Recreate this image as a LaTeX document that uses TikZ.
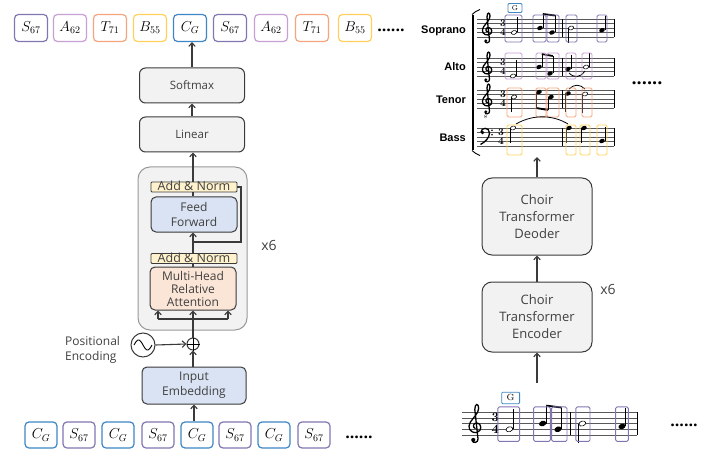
\documentclass[tikz,border=0pt]{standalone}
\usepackage{fontspec}
\newfontfamily\labelfont{Open Sans}
\newfontfamily\voicefont{Liberation Sans}
\usetikzlibrary{arrows, arrows.meta, positioning, calc}

\definecolor{sopc}{HTML}{8275B0}
\definecolor{altc}{HTML}{C6A0D4}
\definecolor{tenc}{HTML}{F4A57E}
\definecolor{basc}{HTML}{FFD15C}
\definecolor{chdc}{HTML}{3D87C5}
\definecolor{boxgray}{HTML}{F2F2F2}
\definecolor{normc}{HTML}{FFF2CC}
\definecolor{ffc}{HTML}{DAE3F3}
\definecolor{attc}{HTML}{FBE5D6}
\definecolor{txtc}{HTML}{404040}
\definecolor{edgec}{HTML}{3A3A3A}

\tikzset{
  >={Straight Barb[length=3.5pt, width=6.5pt]},
  wire/.style={line width=1.1pt, edgec},
  tok/.style={draw, fill=white, rounded corners=4pt, line width=1.2pt, minimum width=33pt, minimum height=27pt, inner sep=0pt, font=\fontsize{14}{14}\selectfont},
  layerbox/.style={draw=edgec, fill=boxgray, rounded corners=6pt, line width=1pt, text=txtc, align=center, inner sep=0pt, minimum width=105pt, minimum height=35pt, font=\labelfont\fontsize{11.5}{14}\selectfont},
  stackbox/.style={draw=gray!80, fill=boxgray, rounded corners=12pt, line width=1pt},
  subbox/.style={draw=edgec, rounded corners=5pt, line width=1pt, text=txtc, align=center, inner sep=0pt, minimum width=86pt, font=\labelfont\fontsize{12}{14}\selectfont},
  normbox/.style={draw=edgec, fill=normc, line width=0.9pt, rounded corners=1pt, minimum width=86pt, minimum height=10pt, text height=8pt, text depth=1pt, inner sep=0pt, text=txtc, font=\labelfont\fontsize{12.5}{12.5}\selectfont},
  choirbox/.style={draw=edgec, fill=boxgray, rounded corners=10pt, line width=1pt, minimum width=110pt, text=txtc, align=center, inner sep=0pt, font=\labelfont\fontsize{13}{17}\selectfont},
  plain/.style={text=txtc, font=\labelfont\fontsize{12}{15}\selectfont, align=left, inner sep=0pt},
  rep/.style={text=txtc, font=\labelfont\fontsize{14}{14}\selectfont, inner sep=0pt},
  ellip/.style={font=\labelfont\bfseries\fontsize{16}{16}\selectfont, inner sep=0pt},
  voice/.style={font=\voicefont\bfseries\fontsize{11}{11}\selectfont, anchor=east, inner sep=0pt},
  staffline/.style={line width=0.5pt, black!65},
  barline/.style={line width=0.7pt},
  stemline/.style={line width=0.6pt},
  beamline/.style={line width=1.8pt},
  clefline/.style={line width=1.3pt},
  vbox/.style={rounded corners=1.5pt, line width=0.9pt},
  meter/.style={font=\fontsize{10}{10}\selectfont\bfseries, inner sep=0pt, transform shape},
  gmark/.style={draw=chdc, line width=0.8pt, rounded corners=1pt, font=\fontsize{7}{7}\selectfont, inner sep=0pt, minimum width=14pt, minimum height=9pt, transform shape}
}

% music glyphs, y points down, staff spacing 4.5
\newcommand{\gclef}[2]{%
  \begin{scope}[shift={(#1,#2)}]
    \draw[clefline] (6.5,13) .. controls (4,12) and (4.5,8.5) .. (7.5,8.5)
      .. controls (11.5,8.5) and (12,15) .. (7.5,16)
      .. controls (2,16.5) and (0,12) .. (2.5,8)
      .. controls (5,4) and (9,1) .. (9,-3)
      .. controls (9,-7) and (6,-7) .. (6,-2)
      -- (8.5,21)
      .. controls (9,24) and (4,25) .. (4,22);
    \fill (4.8,21.8) circle (1.6);
  \end{scope}}
\newcommand{\fclef}[2]{%
  \begin{scope}[shift={(#1,#2)}]
    \fill (2.5,4.5) circle (1.8);
    \draw[clefline] (1,4) .. controls (1,-0.8) and (9.5,-1.2) .. (9.5,5)
      .. controls (9.5,10) and (5,14) .. (0.5,16.5);
    \fill (12,2.3) circle (0.9) (12,6.8) circle (0.9);
  \end{scope}}
\newcommand{\meter}[2]{%
  \node[meter] (mtop) at (#1,{#2+4.5}) {3};
  \node[meter] (mbot) at (#1,{#2+13.5}) {4};}
\newcommand{\staff}[2]{%
  \foreach \li in {0,...,4} \draw[staffline] (#1,{#2+4.5*\li}) -- ++(137,0);}
\newcommand{\fnote}[4]{%
  \fill[rotate around={20:(#1,#2)}] (#1,#2) ellipse (2.9 and 2.1);
  \draw[stemline] ({#1+#3},#2) -- ({#1+#3},#4);}
\newcommand{\hnote}[4]{%
  \draw[stemline, fill=white, rotate around={20:(#1,#2)}] (#1,#2) ellipse (2.7 and 1.9);
  \draw[stemline] ({#1+#3},#2) -- ({#1+#3},#4);}
% soprano line, also used for the melody below
\newcommand{\sopranovoice}{%
  \staff{0}{0}
  \gclef{4}{0}
  \meter{26}{0}
  \draw[barline] (85,0) -- (85,18) (137,0) -- (137,18);
  \hnote{37}{13.5}{2.8}{-2}
  \fnote{63}{9}{2.8}{-5}
  \fnote{75}{13.5}{2.8}{-3.5}
  \draw[beamline] (65.8,-5) -- (77.8,-3.5);
  \hnote{94}{9}{-2.8}{24}
  \fnote{125}{11.25}{2.8}{-3}
  \foreach \a/\b in {28/45, 56/69, 70/82, 89/100, 120/130}
    \draw[vbox, sopc] (\a,-4) rectangle (\b,23);
  \node[gmark] (gbox) at (38,-11) {G};}

\begin{document}
\begin{tikzpicture}[x=1pt, y=-1pt]
\useasboundingbox (0,0) rectangle (719,454);

% output tokens
\foreach \x/\lab/\col [count=\i] in {31/S_{67}/sopc, 70/A_{62}/altc, 110/T_{71}/tenc, 150/B_{55}/basc, 190/C_G/chdc, 230/S_{67}/sopc, 271/A_{62}/altc, 312/T_{71}/tenc, 355/B_{55}/basc}
  \node[tok, draw=\col] (ttok\i) at (\x,28) {$\lab$};
\node[ellip] (tdots) at (391,30) {......};

% transformer
\node[layerbox] (softmax) at (192,85.5) {Softmax};
\node[layerbox] (linear) at (192,134.5) {Linear};
\node[stackbox, minimum width=109pt, minimum height=163pt] (stack) at (192.5,248.5) {};
\node[normbox] (norm1) at (194,187) {Add \& Norm};
\node[subbox, fill=ffc, minimum height=35pt, font=\labelfont\fontsize{12}{15}\selectfont] (ff) at (194,214.5) {Feed\\Forward};
\node[normbox] (norm2) at (194,258.5) {Add \& Norm};
\node[subbox, fill=attc, minimum height=43pt, font=\labelfont\fontsize{12}{13}\selectfont] (mha) at (193,288.5) {Multi-Head\\Relative\\Attention};
\node[rep] (rep1) at (269,245) {x6};

\coordinate (split) at (193,319);
\coordinate (splitl) at (158,319);
\coordinate (splitr) at (228,319);
\coordinate (res) at (193,242);
\coordinate (resr) at (241,242);
\draw[wire] (splitl) -- (splitr);
\foreach \c in {splitl, split, splitr}
  \draw[wire, ->] (\c) -- (\c |- mha.south);
\draw[wire] (mha.north) -- (mha.north |- norm2.south);
\draw[wire] (mha.north |- norm2.north) -- (res);
\draw[wire, ->] (res) -- (res |- ff.south);
\draw[wire] (res) -- (resr) |- (norm1.east);
\draw[wire] (res |- ff.north) -- (res |- norm1.south);
\draw[wire, ->] (res |- norm1.north) -- (res |- linear.south);
\draw[wire, ->] (linear.north) -- (softmax.south);
\draw[wire, ->] (softmax.north) -- (softmax.north |- ttok5.south);

% input side
\node[draw=edgec, circle, line width=1pt, minimum size=12pt, inner sep=0pt] (plus) at (193,344) {};
\draw[line width=0.8pt] (plus.north) -- (plus.south) (plus.west) -- (plus.east);
\node[draw=edgec, circle, line width=1pt, minimum size=24pt, inner sep=0pt] (pe) at (143,345) {};
\draw[line width=0.9pt, shift={(pe.center)}] plot[domain=-9:9, samples=40] (\x, {5*sin(20*\x)});
\node[plain, anchor=west] (pelabel) at (65,350) {Positional\\Encoding};
\node[subbox, fill=ffc, minimum width=104pt, minimum height=37pt, font=\labelfont\fontsize{12}{15}\selectfont] (embed) at (194,385.5) {Input\\Embedding};
\draw[wire] (plus.north) -- (split);
\draw[wire, ->] (pe.east) -- (plus.west);
\draw[wire, ->] (plus.south |- embed.north) -- (plus.south);

% input tokens
\foreach \x/\lab/\col [count=\i] in {41/C_G/chdc, 79/S_{67}/sopc, 118/C_G/chdc, 158/S_{67}/sopc, 197/C_G/chdc, 235/S_{67}/sopc, 274/C_G/chdc, 314/S_{67}/sopc}
  \node[tok, draw=\col, minimum width=32pt, minimum height=26pt] (btok\i) at (\x,435) {$\lab$};
\node[ellip] (bdots) at (359,437) {......};
\draw[wire, ->] (embed.south |- btok5.north) -- (embed.south);

% score: voice names and bracket
\node[voice] (sop) at (466,31) {Soprano};
\node[voice] (alt) at (466,67) {Alto};
\node[voice] (ten) at (466,100) {Tenor};
\node[voice] (bas) at (466,138) {Bass};
\draw[line width=2pt] (473,15) -- (473,150);
\draw[line width=0.9pt] (472,14.5) .. controls (474,12) and (477,11) .. (480,9.5);
\draw[line width=0.9pt] (472,150.5) .. controls (474,153) and (477,154) .. (480,155.5);

% soprano
\begin{scope}[shift={(477,19)}]
  \sopranovoice
\end{scope}

% alto
\staff{477}{58}
\gclef{481}{58}
\meter{503}{58}
\draw[barline] (562,58) -- (562,76) (614,58) -- (614,76);
\hnote{513}{76}{2.8}{60}
\fnote{539}{67}{2.8}{54}
\fnote{550}{73.5}{2.8}{56}
\draw[beamline] (541.8,54) -- (552.8,56);
\fnote{568}{69}{2.8}{55}
\hnote{586}{67}{2.8}{53}
\draw[thick] (569,73) .. controls (574,78) and (580,78) .. (585,71);
\foreach \a/\b in {505/522, 536/546, 547/559, 566/576, 582/592}
  \draw[vbox, altc] (\a,53) rectangle (\b,79);

% tenor
\staff{477}{90}
\gclef{481}{90}
\node[font=\fontsize{5}{5}\selectfont, inner sep=0pt] (oct) at (485.5,117) {8};
\meter{503}{90}
\draw[barline] (562,90) -- (562,108) (614,90) -- (614,108);
\hnote{514}{97}{-2.8}{112}
\fnote{539}{92}{-2.8}{108}
\fnote{551}{97}{-2.8}{110}
\draw[beamline] (536.2,108) -- (548.2,110);
\fnote{568}{93.5}{-2.8}{112}
\hnote{585}{94}{-2.8}{113}
\draw[thick] (569,89) .. controls (574,84) and (580,84) .. (585,89);
\foreach \a/\b in {507/522, 536/546, 547/559, 566/576, 582/592}
  \draw[vbox, tenc] (\a,88) rectangle (\b,117);

% bass
\staff{477}{128}
\fclef{480}{128}
\meter{501}{128}
\draw[barline] (562,128) -- (562,146) (614,128) -- (614,146);
\hnote{513}{128}{-2.8}{143}
\draw[thick] (516,124) .. controls (535,113) and (555,116) .. (568,124);
\fnote{569}{128}{-2.8}{143}
\fnote{584}{128}{-2.8}{143}
\fnote{602}{141}{2.8}{127}
\foreach \a/\b in {507/522, 566/576, 580/590, 597/607}
  \draw[vbox, basc] (\a,125) rectangle (\b,155);
\node[ellip, font=\labelfont\bfseries\fontsize{18}{18}\selectfont] (sdots) at (647,83) {......};

% choir transformer
\node[choirbox, minimum height=77pt] (decoder) at (537,216.5) {Choir\\Transformer\\Deoder};
\node[choirbox, minimum height=70pt] (encoder) at (537,317) {Choir\\Transformer\\Encoder};
\node[rep] (rep2) at (608,289) {x6};
\coordinate (scorein) at (537,157);
\coordinate (melin) at (537,383);
\draw[wire, ->] (melin) -- (encoder.south);
\draw[wire, ->] (encoder.north) -- (decoder.south);
\draw[wire, ->] (decoder.north) -- (scorein);

% melody
\begin{scope}[shift={(462,412)}, scale=1.28]
  \sopranovoice
\end{scope}
\node[ellip] (mdots) at (684,425) {......};
\end{tikzpicture}
\end{document}
